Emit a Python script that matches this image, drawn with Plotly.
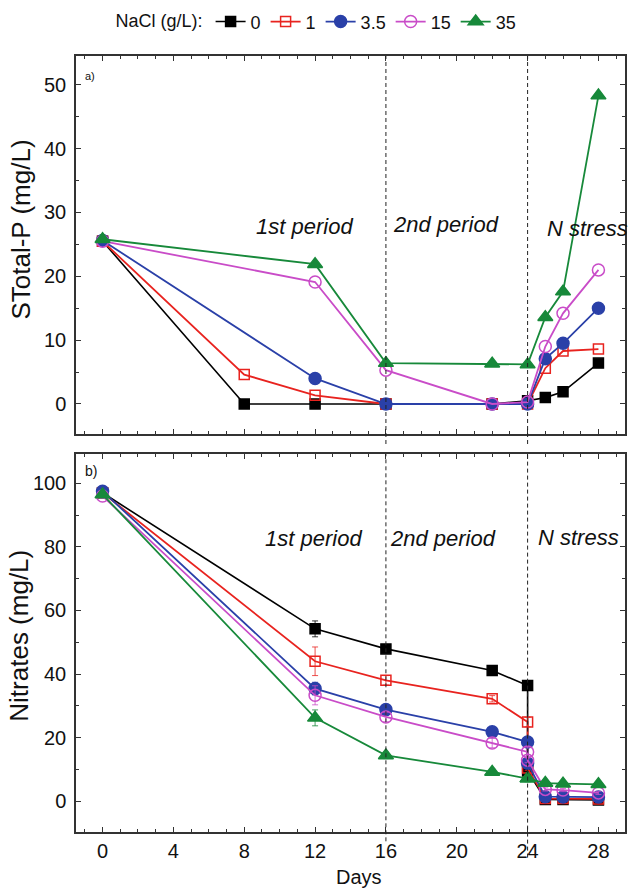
import plotly.graph_objects as go

# ---------------- data ----------------
series_names = ["0", "1", "3.5", "15", "35"]

days_a = [0, 8, 12, 16, 22, 24, 25, 26, 28]
tp_0 = [25.5, 0.0, 0.0, 0.0, 0.0, 0.5, 1.0, 1.9, 6.4]
tp_1 = [25.5, 4.6, 1.35, 0.0, 0.0, 0.0, 5.6, 8.3, 8.6]
tp_3_5 = [25.6, None, 4.0, 0.0, 0.0, 0.0, 7.1, 9.5, 15.0]
tp_15 = [25.5, None, 19.1, 5.3, 0.0, 0.3, 9.0, 14.2, 21.0]
tp_35 = [25.8, None, 21.9, 6.4, 6.3, 6.2, 13.6, 17.6, 48.3]

days_b = [0, 12, 16, 22, 24, 24, 25, 26, 28]
no3_0 = [97.0, 54.2, 47.9, 41.1, 36.4, 9.5, 0.5, 0.5, 0.4]
no3_1 = [97.0, 44.0, 38.0, 32.2, 24.9, 10.4, 0.8, 0.8, 0.7]
no3_3_5 = [97.5, 35.4, 28.8, 21.8, 18.6, 11.9, 1.4, 1.3, 1.3]
no3_15 = [96.0, 33.3, 26.5, 18.3, 15.5, 12.9, 3.7, 3.5, 2.6]
no3_35 = [96.5, 26.2, 14.4, 9.2, 7.1, 7.1, 5.7, 5.5, 5.3]

err_0 = [0.8, 2.5, 1.0, 1.0, 1.0, 0.8, 0.5, 0.5, 0.5]
err_1 = [0.8, 4.5, 1.5, 1.0, 1.5, 0.8, 0.5, 0.5, 0.5]
err_3_5 = [0.8, 2.0, 1.5, 1.0, 1.0, 0.8, 0.5, 0.5, 0.5]
err_15 = [0.8, 3.0, 1.5, 1.5, 1.5, 0.8, 0.5, 0.5, 0.5]
err_35 = [0.8, 2.5, 1.0, 1.0, 1.0, 0.8, 0.5, 0.5, 0.5]

periods = ["1st period", "2nd period", "N stress"]
period_x_a = [11.4, 19.4, 27.4]
period_y_a = [27.8, 28.1, 27.5]
period_x_b = [11.9, 19.2, 26.9]
period_y_b = [82.6, 82.6, 82.9]
boundaries = [16, 24]

tp_series = [tp_0, tp_1, tp_3_5, tp_15, tp_35]
no3_series = [no3_0, no3_1, no3_3_5, no3_15, no3_35]
err_series = [err_0, err_1, err_3_5, err_15, err_35]

# ---------------- style ----------------
colors = ["#000000", "#e8231f", "#2a40a8", "#c94cc8", "#17893a"]
symbols = ["square", "square-open", "circle", "circle-open", "triangle-up"]
msizes = [10, 10, 12, 12, 13]
lwidths = [1.6, 1.8, 1.8, 1.8, 1.8]
FONT = "Liberation Sans, Arial, sans-serif"

fig = go.Figure()

for i, name in enumerate(series_names):
    fig.add_trace(go.Scatter(
        x=days_a, y=tp_series[i], mode="lines+markers", name=name,
        connectgaps=True, xaxis="x2", yaxis="y2", legendgroup=name,
        line=dict(color=colors[i], width=lwidths[i]),
        marker=dict(symbol=symbols[i], size=msizes[i], color=colors[i],
                    line=dict(color=colors[i], width=1.5)),
        showlegend=True,
    ))
for i, name in enumerate(series_names):
    fig.add_trace(go.Scatter(
        x=days_b, y=no3_series[i], mode="lines+markers", name=name,
        xaxis="x", yaxis="y", legendgroup=name, showlegend=False,
        line=dict(color=colors[i], width=lwidths[i]),
        error_y=dict(type="data", array=err_series[i], color=colors[i],
                     thickness=0.8, width=3),
        marker=dict(symbol=symbols[i], size=msizes[i], color=colors[i],
                    line=dict(color=colors[i], width=1.5)),
    ))

axis_common = dict(
    showline=True, linecolor="#333333", linewidth=1.5, mirror="allticks",
    ticks="inside", ticklen=5, tickwidth=1.2, tickcolor="#333333",
    showgrid=False, zeroline=False,
    tickfont=dict(family=FONT, size=20, color="#111111"),
)

top_a, bot_a = 1.0, 0.5129
top_b, bot_b = 0.4871, 0.0

fig.update_layout(
    width=630, height=891,
    margin=dict(l=76, r=3, t=54, b=59),
    paper_bgcolor="white", plot_bgcolor="white",
    font=dict(family=FONT, color="#111111"),
    xaxis=dict(**axis_common, domain=[0, 1], anchor="y", range=[-1.5, 29.5],
               tickvals=[0, 4, 8, 12, 16, 20, 24, 28],
               minor=dict(dtick=1, tick0=0, ticks="inside", ticklen=3,
                          tickcolor="#333333"),
               ticklabelstandoff=0),
    yaxis=dict(**axis_common, domain=[bot_b, top_b], anchor="x", range=[-9.7, 109.2],
               tickvals=[0, 20, 40, 60, 80, 100],
               minor=dict(dtick=10, tick0=0, ticks="inside", ticklen=3,
                          tickcolor="#333333"),
               ticklabelstandoff=4),
    xaxis2=dict(**axis_common, domain=[0, 1], anchor="y2", range=[-1.5, 29.5],
                matches="x", showticklabels=False,
                tickvals=[0, 4, 8, 12, 16, 20, 24, 28],
                minor=dict(dtick=1, tick0=0, ticks="inside", ticklen=3,
                           tickcolor="#333333")),
    yaxis2=dict(**axis_common, domain=[bot_a, top_a], anchor="x2", range=[-4.7, 54.5],
                tickvals=[0, 10, 20, 30, 40, 50],
                minor=dict(dtick=5, tick0=0, ticks="inside", ticklen=3,
                           tickcolor="#333333"),
                ticklabelstandoff=4),
    legend=dict(orientation="h", x=0.44, xanchor="center", y=1.044, yanchor="middle",
                title=dict(text="NaCl (g/L):", side="left",
                           font=dict(family=FONT, size=18)),
                font=dict(family=FONT, size=18), bgcolor="rgba(0,0,0,0)",
                itemwidth=30, tracegroupgap=0, entrywidth=0),
    showlegend=True,
)

dash_line = dict(color="#222222", width=1, dash="4px,3px")
shapes = []
for xb in boundaries:
    shapes.append(dict(type="line", xref="x2", yref="paper", x0=xb, x1=xb,
                       y0=0.5, y1=top_a, line=dash_line))
    shapes.append(dict(type="line", xref="x", yref="paper", x0=xb, x1=xb,
                       y0=-0.033 if xb == 24 else -0.012, y1=top_b,
                       line=dash_line))
fig.update_layout(shapes=shapes)

pfont = dict(family=FONT, size=22, color="#111111", style="italic")
ann = []
for j, txt in enumerate(periods):
    ann.append(dict(x=period_x_a[j], y=period_y_a[j], xref="x2", yref="y2", text=txt,
                    showarrow=False, font=pfont, xanchor="center", yanchor="middle"))
    ann.append(dict(x=period_x_b[j], y=period_y_b[j], xref="x", yref="y", text=txt,
                    showarrow=False, font=pfont, xanchor="center", yanchor="middle"))
ann.append(dict(x=0.012, y=0.985, xref="paper", yref="paper", text="a)", showarrow=False,
                font=dict(family=FONT, size=11), xanchor="left", yanchor="top"))
ann.append(dict(x=0.012, y=0.478, xref="paper", yref="paper", text="b)", showarrow=False,
                font=dict(family=FONT, size=14), xanchor="left", yanchor="top"))
ann.append(dict(x=-0.1, y=(top_a + bot_a) / 2 + 0.02, xref="paper", yref="paper",
                text="STotal-P (mg/L)", textangle=-90, showarrow=False,
                font=dict(family=FONT, size=26), xanchor="center", yanchor="middle"))
ann.append(dict(x=-0.103, y=(top_b + bot_b) / 2 + 0.01, xref="paper", yref="paper",
                text="Nitrates (mg/L)", textangle=-90, showarrow=False,
                font=dict(family=FONT, size=26), xanchor="center", yanchor="middle"))
ann.append(dict(x=(360 - 76) / 551, y=-0.0575, xref="paper", yref="paper",
                text="Days", showarrow=False,
                font=dict(family=FONT, size=20), xanchor="center", yanchor="middle"))
for a in ann:
    fig.add_annotation(a)

fig.write_html("out.html")
